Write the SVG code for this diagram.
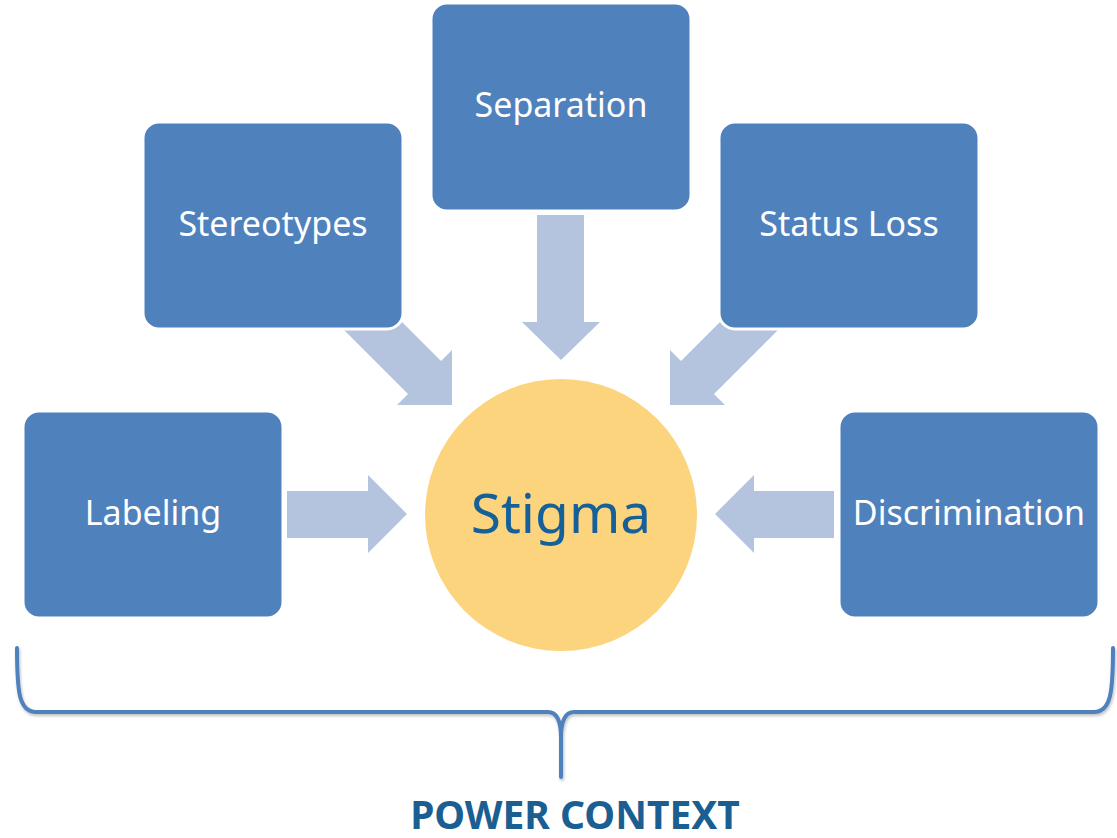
<svg xmlns="http://www.w3.org/2000/svg" width="1117" height="838" viewBox="0 0 1117 838">
<style>
.box{fill:#4F81BD;stroke:#FFFFFF;stroke-width:3}
.arrow{fill:#B4C3DE}
.lbl{font-family:"Noto Sans","Open Sans","DejaVu Sans",sans-serif;font-size:34px;fill:#FFFFFF;text-anchor:middle}
.brace{fill:none;stroke:#4F81BD;stroke-width:4;stroke-linecap:round;stroke-linejoin:round}
</style>
<defs>
<filter id="sh" x="-5%" y="-5%" width="110%" height="120%">
<feDropShadow dx="1" dy="2" stdDeviation="1.5" flood-color="#000" flood-opacity="0.25"/>
</filter>
</defs>
<rect width="1117" height="838" fill="#FFFFFF"/>
<g id="connectors">
<polygon class="arrow" points="537,215 584,215 584,322 600,322 561,360 522,322 537,322"/>
<polygon class="arrow" points="287,491 368,491 368,475 407,514 368,553 368,538 287,538"/>
<polygon class="arrow" points="834,491 754,491 754,475 715,514 754,553 754,538 834,538"/>
<polygon class="arrow" points="371,291 441,361 452,350 452,405 397,405 408,394 338,324"/>
<polygon class="arrow" points="751,291 681,361 670,350 670,405 725,405 714,394 784,324"/>
</g>
<g id="separation"><rect class="box" x="431" y="3" width="260" height="208" rx="16"/><text class="lbl" x="561" y="117">Separation</text></g>
<g id="stereotypes"><rect class="box" x="143" y="122" width="260" height="207" rx="16"/><text class="lbl" x="273" y="236">Stereotypes</text></g>
<g id="statusloss"><rect class="box" x="719" y="122" width="260" height="207" rx="16"/><text class="lbl" x="849" y="236">Status Loss</text></g>
<g id="labeling"><rect class="box" x="23" y="411" width="260" height="207" rx="16"/><text class="lbl" x="153" y="525">Labeling</text></g>
<g id="discrimination"><rect class="box" x="839" y="411" width="260" height="207" rx="16"/><text class="lbl" x="969" y="525">Discrimination</text></g>
<g id="stigma"><circle cx="561" cy="515" r="136" fill="#FCD47E"/><text x="561" y="533" font-family="Noto Sans, Open Sans, DejaVu Sans, sans-serif" font-size="55" fill="#16609A" text-anchor="middle">Stigma</text></g>
<g id="powercontext">
<path class="brace" filter="url(#sh)" d="M17,648 C17,692 19,712 36,712 L548,712 Q561,712 561,738 L561,777 M561,738 Q561,712 574,712 L1094,712 C1111,712 1113,692 1113,648"/>
<text x="575" y="829" font-family="Noto Sans, Open Sans, DejaVu Sans, sans-serif" font-size="39" font-weight="bold" fill="#1B5F92" text-anchor="middle">POWER CONTEXT</text>
</g>
</svg>
